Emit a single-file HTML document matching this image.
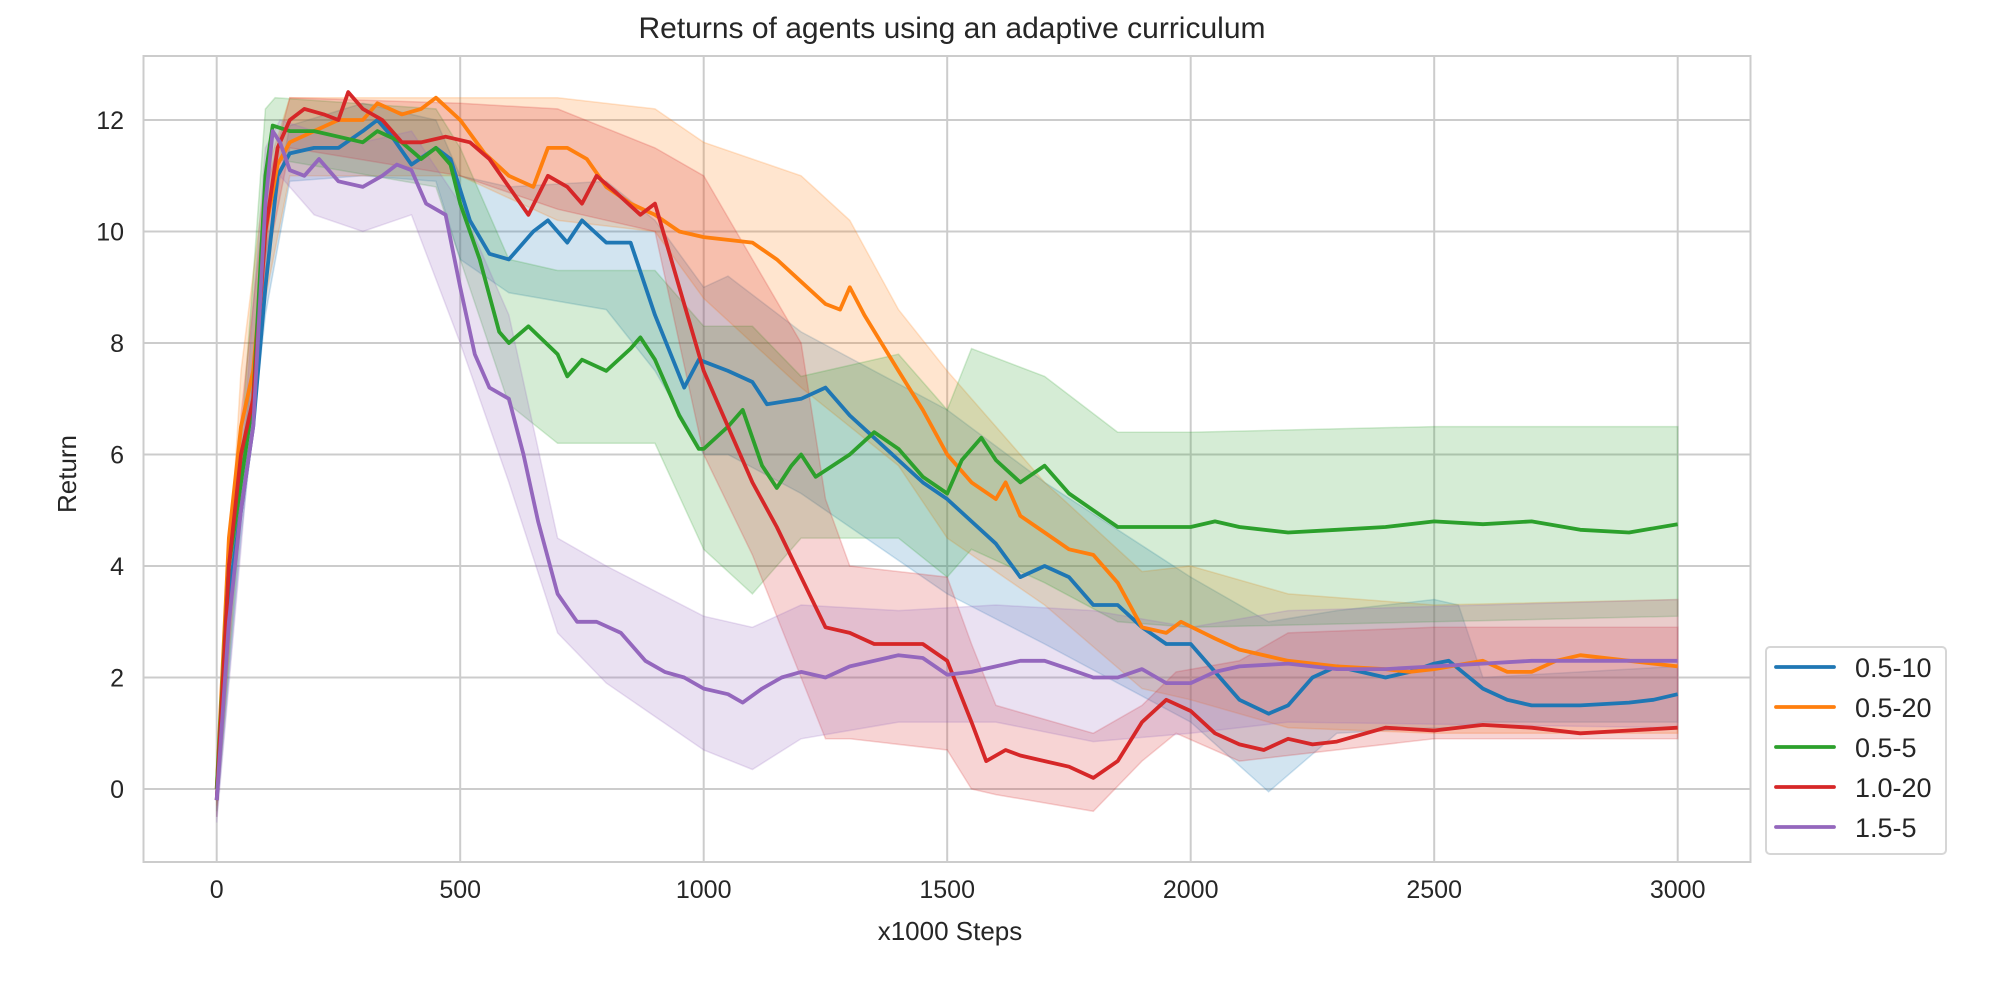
<!DOCTYPE html>
<html><head><meta charset="utf-8"><style>
html,body{margin:0;padding:0;background:#fff;}
svg{display:block;font-family:"Liberation Sans",sans-serif;}
</style></head><body>
<svg id="chart" width="2000" height="1000" viewBox="0 0 2000 1000">
<rect x="0" y="0" width="2000" height="1000" fill="#fff"/>
<text x="952" y="38" text-anchor="middle" font-size="30" fill="#262626">Returns of agents using an adaptive curriculum</text>
<g id="grid"></g>
<g id="bands"></g>
<g id="lines"></g>
<rect x="143.5" y="56" width="1607" height="806" fill="none" stroke="#cccccc" stroke-width="2"/>
<g id="ticks"></g>
<text x="950" y="940" text-anchor="middle" font-size="26" fill="#262626">x1000 Steps</text>
<text x="0" y="0" transform="translate(76,474) rotate(-90)" text-anchor="middle" font-size="26" fill="#262626">Return</text>
<g id="legend"></g>
</svg>
<script>
const seriesNames = ["0.5-10","0.5-20","0.5-5","1.0-20","1.5-5"];
const seriesColors = ["#1f77b4","#ff7f0e","#2ca02c","#d62728","#9467bd"];
const xTicks = [0,500,1000,1500,2000,2500,3000];
const yTicks = [0,2,4,6,8,10,12];

const blueX = [0,25,50,75,100,125,150,200,250,300,330,360,400,450,480,520,560,600,650,680,720,750,800,850,900,960,990,1050,1100,1130,1200,1250,1300,1350,1400,1450,1500,1550,1600,1650,1700,1750,1800,1850,1900,1950,2000,2050,2100,2160,2200,2250,2300,2350,2400,2450,2500,2530,2600,2650,2700,2800,2900,2950,3000];
const blueY = [-0.2,3.5,5,6.5,9,11,11.4,11.5,11.5,11.8,12.0,11.7,11.2,11.5,11.3,10.2,9.6,9.5,10.0,10.2,9.8,10.2,9.8,9.8,8.5,7.2,7.7,7.5,7.3,6.9,7.0,7.2,6.7,6.3,5.9,5.5,5.2,4.8,4.4,3.8,4.0,3.8,3.3,3.3,2.9,2.6,2.6,2.1,1.6,1.35,1.5,2.0,2.2,2.1,2.0,2.1,2.25,2.3,1.8,1.6,1.5,1.5,1.55,1.6,1.7];
const blueBandX = [0,50,100,150,300,450,500,600,800,900,1000,1050,1200,1500,1700,2000,2160,2300,2500,2550,2600,3000];
const blueLo = [-0.5,4.5,8.5,10.9,11.0,10.9,9.5,8.9,8.6,7.5,6.0,6.0,5.3,3.5,2.6,1.2,-0.05,1.0,1.1,1.1,1.2,1.2];
const blueHi = [0.1,5.8,9.6,11.9,12.3,12.0,11.0,10.8,10.9,10.2,9.0,9.2,8.2,6.8,5.5,3.8,3.0,3.2,3.4,3.3,2.0,2.2];

const orangeX = [0,25,50,75,100,125,150,200,250,300,330,380,420,450,500,550,600,650,680,720,760,800,850,900,950,1000,1100,1150,1200,1250,1280,1300,1330,1400,1450,1500,1550,1600,1620,1650,1700,1750,1800,1850,1900,1950,1980,2050,2100,2200,2300,2400,2450,2500,2600,2650,2700,2750,2800,2900,3000];
const orangeY = [0,4.5,6.5,7.5,10,11.2,11.6,11.8,12.0,12.0,12.3,12.1,12.2,12.4,12.0,11.4,11.0,10.8,11.5,11.5,11.3,10.8,10.5,10.3,10.0,9.9,9.8,9.5,9.1,8.7,8.6,9.0,8.5,7.5,6.8,6.0,5.5,5.2,5.5,4.9,4.6,4.3,4.2,3.7,2.9,2.8,3.0,2.7,2.5,2.3,2.2,2.15,2.1,2.15,2.3,2.1,2.1,2.3,2.4,2.3,2.2];
const orangeBandX = [0,50,100,150,500,700,900,1000,1200,1300,1400,1500,1700,1900,2000,2200,2500,3000];
const orangeLo = [-0.3,5.5,8.8,11.0,11.0,10.2,10.0,8.8,7.2,6.5,5.8,4.5,3.3,1.8,1.6,1.1,1.0,1.0];
const orangeHi = [0.3,7.5,11.0,12.4,12.4,12.4,12.2,11.6,11.0,10.2,8.6,7.5,5.5,3.9,4.0,3.5,3.3,3.4];

const greenX = [0,25,50,75,100,115,150,200,250,300,330,380,420,450,480,500,540,580,600,640,700,720,750,800,850,870,900,950,990,1000,1050,1080,1120,1150,1180,1200,1230,1300,1350,1400,1450,1500,1530,1570,1600,1650,1700,1750,1800,1850,1900,2000,2050,2100,2200,2300,2400,2500,2600,2700,2800,2900,3000];
const greenY = [0,4,5.5,7,11.0,11.9,11.8,11.8,11.7,11.6,11.8,11.6,11.3,11.5,11.2,10.5,9.5,8.2,8.0,8.3,7.8,7.4,7.7,7.5,7.9,8.1,7.7,6.7,6.1,6.1,6.5,6.8,5.8,5.4,5.8,6.0,5.6,6.0,6.4,6.1,5.6,5.3,5.9,6.3,5.9,5.5,5.8,5.3,5.0,4.7,4.7,4.7,4.8,4.7,4.6,4.65,4.7,4.8,4.75,4.8,4.65,4.6,4.75];
const greenBandX = [0,50,100,120,450,500,600,700,900,1000,1100,1200,1400,1500,1550,1700,1850,2000,2500,3000];
const greenLo = [-0.4,4.8,9.5,11.3,10.8,9.5,6.9,6.2,6.2,4.3,3.5,4.5,4.5,3.8,4.3,3.7,3.0,2.9,3.0,3.1];
const greenHi = [0.2,6.2,12.2,12.4,12.2,11.5,9.5,9.3,9.3,8.3,8.3,7.4,7.8,6.8,7.9,7.4,6.4,6.4,6.5,6.5];

const redX = [0,25,50,75,100,125,150,180,220,250,270,300,340,380,420,470,520,560,600,640,680,720,750,780,820,870,900,950,1000,1050,1100,1150,1200,1250,1300,1350,1400,1450,1500,1550,1580,1620,1650,1700,1750,1800,1850,1900,1950,2000,2050,2100,2150,2200,2250,2300,2400,2500,2600,2700,2800,2900,3000];
const redY = [-0.2,4,6,7,10,11.5,12.0,12.2,12.1,12.0,12.5,12.2,12.0,11.6,11.6,11.7,11.6,11.3,10.8,10.3,11.0,10.8,10.5,11.0,10.7,10.3,10.5,9.0,7.5,6.5,5.5,4.7,3.8,2.9,2.8,2.6,2.6,2.6,2.3,1.2,0.5,0.7,0.6,0.5,0.4,0.2,0.5,1.2,1.6,1.4,1.0,0.8,0.7,0.9,0.8,0.85,1.1,1.05,1.15,1.1,1.0,1.05,1.1];
const redBandX = [0,50,100,150,500,700,900,1000,1100,1200,1250,1300,1500,1550,1600,1800,1900,1970,2100,2200,2500,3000];
const redLo = [-0.5,5.3,9.3,11.5,11.0,10.4,10.0,6.0,4.2,2.0,0.9,0.9,0.7,0.0,-0.1,-0.4,0.5,1.0,0.5,0.6,0.9,0.9];
const redHi = [0.1,6.7,10.7,12.4,12.3,12.2,11.5,11.0,9.5,8.0,5.2,4.0,3.8,2.6,1.5,1.0,1.5,2.1,2.3,2.8,2.9,2.9];

const purpleX = [0,25,50,75,100,115,130,150,180,210,250,300,340,370,400,430,470,500,530,560,600,630,660,700,740,780,830,880,920,960,1000,1050,1080,1120,1160,1200,1250,1300,1400,1450,1500,1550,1600,1650,1700,1750,1800,1850,1900,1950,2000,2050,2100,2200,2300,2400,2500,2600,2700,2800,2900,3000];
const purpleY = [-0.2,3,5,6.5,10.5,11.8,11.6,11.1,11.0,11.3,10.9,10.8,11.0,11.2,11.1,10.5,10.3,9.0,7.8,7.2,7.0,6.0,4.8,3.5,3.0,3.0,2.8,2.3,2.1,2.0,1.8,1.7,1.55,1.8,2.0,2.1,2.0,2.2,2.4,2.35,2.05,2.1,2.2,2.3,2.3,2.15,2.0,2.0,2.15,1.9,1.9,2.1,2.2,2.25,2.15,2.15,2.2,2.25,2.3,2.3,2.3,2.3];
const purpleBandX = [0,50,100,130,200,300,400,500,600,700,800,1000,1100,1200,1400,1600,1800,2000,2200,3000];
const purpleLo = [-0.6,4.3,9.5,11.0,10.3,10.0,10.3,8.0,5.5,2.8,1.9,0.7,0.35,0.9,1.2,1.2,0.85,1.0,1.2,1.1];
const purpleHi = [0.1,5.8,11.5,12.0,11.8,11.6,11.8,10.5,8.5,4.5,4.0,3.1,2.9,3.3,3.2,3.3,3.2,2.9,3.2,3.4];

const allX = [blueX,orangeX,greenX,redX,purpleX];
const allY = [blueY,orangeY,greenY,redY,purpleY];
const allBX = [blueBandX,orangeBandX,greenBandX,redBandX,purpleBandX];
const allLo = [blueLo,orangeLo,greenLo,redLo,purpleLo];
const allHi = [blueHi,orangeHi,greenHi,redHi,purpleHi];

const NS = "http://www.w3.org/2000/svg";
const X0=216.7, X1=1677.7, Y0=789, Y12=120;
function sx(v){return X0+(X1-X0)*v/3000;}
function sy(v){return Y0+(Y12-Y0)*v/12;}
function mk(tag,attrs,parent){const e=document.createElementNS(NS,tag);for(const k in attrs)e.setAttribute(k,attrs[k]);parent.appendChild(e);return e;}

const grid=document.getElementById('grid'), ticks=document.getElementById('ticks');
xTicks.forEach(t=>{
  const l=mk('line',{x1:sx(t),x2:sx(t),y1:56,y2:862,stroke:'#cccccc','stroke-width':2},grid);
  
  
  const tx=mk('text',{x:sx(t),y:898,'text-anchor':'middle','font-size':25,fill:'#262626'},ticks);
  tx.textContent=t;
  
  
});
yTicks.forEach(t=>{
  const l=mk('line',{x1:143.5,x2:1750.5,y1:sy(t),y2:sy(t),stroke:'#cccccc','stroke-width':2},grid);
  
  
  const tx=mk('text',{x:124,y:sy(t)+9,'text-anchor':'end','font-size':25,fill:'#262626'},ticks);
  tx.textContent=t;
  
  
});

const bands=document.getElementById('bands'), lines=document.getElementById('lines');
for(let i=0;i<5;i++){
  const bx=allBX[i], lo=allLo[i], hi=allHi[i];
  let d='';
  for(let j=0;j<bx.length;j++) d+=(j?'L':'M')+sx(bx[j]).toFixed(1)+','+sy(hi[j]).toFixed(1);
  for(let j=bx.length-1;j>=0;j--) d+='L'+sx(bx[j]).toFixed(1)+','+sy(lo[j]).toFixed(1);
  d+='Z';
  const p=mk('path',{d:d,fill:seriesColors[i],'fill-opacity':0.2,stroke:seriesColors[i],'stroke-opacity':0.2,'stroke-width':1.5},bands);
  
  
}
for(let i=0;i<5;i++){
  const xs=allX[i], ys=allY[i];
  const pts=xs.map((x,j)=>sx(x).toFixed(1)+','+sy(ys[j]).toFixed(1)).join(' ');
  const pl=mk('polyline',{points:pts,fill:'none',stroke:seriesColors[i],'stroke-width':3.8,'stroke-linejoin':'round'},lines);
  
  
}

const lg=document.getElementById('legend');
const box=mk('rect',{x:1766,y:647,width:180,height:207,rx:4,fill:'#fff','fill-opacity':0.8,stroke:'#d6d6d6','stroke-width':2},lg);


for(let i=0;i<5;i++){
  const cy=667+40*i;
  const ll=mk('line',{x1:1776,x2:1834,y1:cy,y2:cy,stroke:seriesColors[i],'stroke-width':3.8,'stroke-linecap':'round'},lg);
  
  
  const t=mk('text',{x:1855,y:cy+10,'font-size':27,fill:'#262626'},lg);
  t.textContent=seriesNames[i];
  
  
}
</script>
</body></html>
